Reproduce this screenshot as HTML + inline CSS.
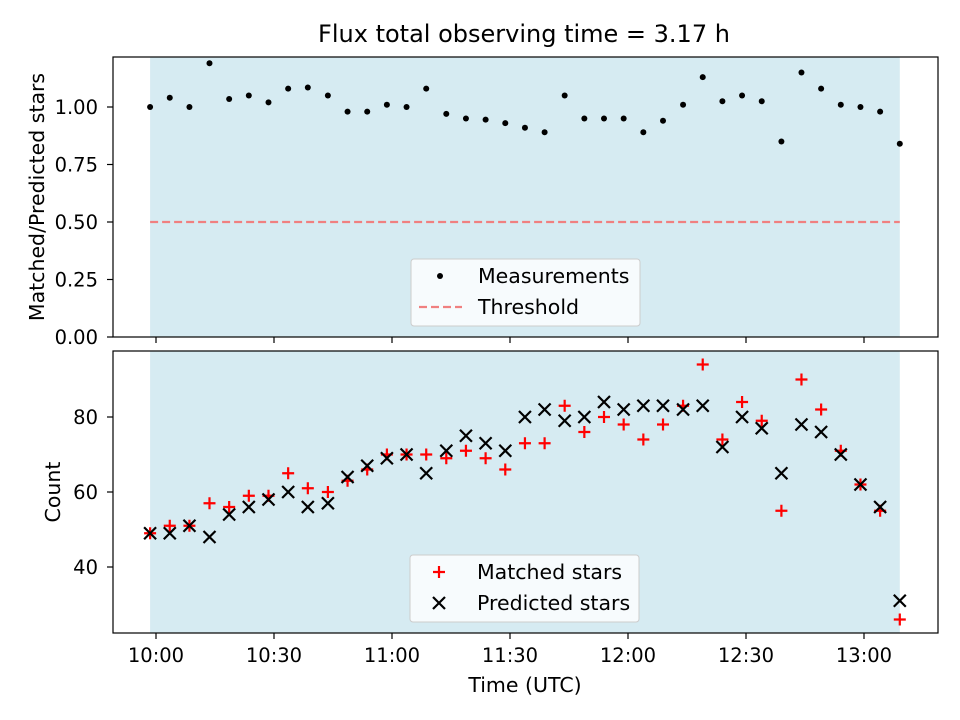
<!DOCTYPE html>
<html><head><meta charset="utf-8"><style>
body{margin:0;background:#fff;}
svg{display:block;font-family:"DejaVu Sans","Liberation Sans",sans-serif;}
</style></head><body>
<svg id="chart" width="960" height="720" xmlns="http://www.w3.org/2000/svg"></svg>
<script>
// Data
const timesMin = [-1.5,3.5,8.5,13.6,18.6,23.6,28.6,33.6,38.6,43.7,48.7,53.7,58.7,63.7,68.7,73.8,78.8,83.8,88.8,93.8,98.8,103.9,108.9,113.9,118.9,123.9,128.9,134,139,144,149,154,159,164.1,169.1,174.1,179.1,184.1,189.1];
const ratioValues = [1.00,1.04,1.00,1.19,1.035,1.05,1.02,1.08,1.085,1.05,0.98,0.98,1.01,1.00,1.08,0.97,0.95,0.945,0.93,0.91,0.89,1.05,0.95,0.95,0.95,0.89,0.94,1.01,1.13,1.025,1.05,1.025,0.85,1.15,1.08,1.01,1.00,0.98,0.84];
const matchedValues = [49,51,51,57,56,59,59,65,61,60,63,66,70,70,70,69,71,69,66,73,73,83,76,80,78,74,78,83,94,74,84,79,55,90,82,71,62,55,26];
const predictedValues = [49,49,51,48,54,56,58,60,56,57,64,67,69,70,65,71,75,73,71,80,82,79,80,84,82,83,83,82,83,72,80,77,65,78,76,70,62,56,31];
const xTickMin = [0,30,60,90,120,150,180];
const xTickLabels = ["10:00","10:30","11:00","11:30","12:00","12:30","13:00"];
const topTicks = [0,0.25,0.5,0.75,1.0];
const topTickLabels = ["0.00","0.25","0.50","0.75","1.00"];
const botTicks = [40,60,80];
const threshold = 0.5;

const NS="http://www.w3.org/2000/svg";
const svg=document.getElementById('chart');
function mk(tag,attrs,parent){const e=document.createElementNS(NS,tag);for(const k in attrs)e.setAttribute(k,attrs[k]);(parent||svg).appendChild(e);return e;}
const X0=113,X1=938;
const TICK_FS=19.5, LABEL_FS=20.5;
const x=m=>156+m*(118/30);
const yTop=v=>337-v*230;
const yBot=v=>417-(v-80)*3.75;
const shadeX0=x(timesMin[0]), shadeX1=x(timesMin[timesMin.length-1]);

function panel(name,top,bottom,ticks,labels,yf,ylabel,ylabelX,showX){
  const g=mk('g',{});
  
  
  const bg=mk('rect',{x:shadeX0,y:top,width:shadeX1-shadeX0,height:bottom-top,fill:'#add8e6','fill-opacity':0.5},g);
  
  
  ticks.forEach((t,i)=>{
    const yy=yf(t);
    mk('line',{x1:X0-6,x2:X0,y1:yy,y2:yy,stroke:'#000','stroke-width':1.2},g);
    const tx=mk('text',{x:X0-15,y:yy+7,'text-anchor':'end','font-size':TICK_FS},g);
    tx.textContent=labels?labels[i]:String(t);
    
    
  });
  xTickMin.forEach((m,i)=>{
    const xx=x(m);
    mk('line',{x1:xx,x2:xx,y1:bottom,y2:bottom+6,stroke:'#000','stroke-width':1.2},g);
    if(showX){const tx=mk('text',{x:xx,y:bottom+29,'text-anchor':'middle','font-size':TICK_FS},g);tx.textContent=xTickLabels[i];
      
      }
  });
  const yl=mk('text',{transform:`translate(${ylabelX},${(top+bottom)/2}) rotate(-90)`,'text-anchor':'middle','font-size':LABEL_FS},g);
  yl.textContent=ylabel;
  
  
  return g;
}
function frame(top,bottom){const r=mk('rect',{x:X0,y:top,width:X1-X0,height:bottom-top,fill:'none',stroke:'#000','stroke-width':1.2});}

const title=mk('text',{x:524,y:42,'text-anchor':'middle','font-size':24});
title.textContent='Flux total observing time = 3.17 h';



// Top panel
const gt=panel('ratio-panel',57,337,topTicks,topTickLabels,yTop,'Matched/Predicted stars',44,false);
const th=mk('line',{x1:shadeX0,x2:shadeX1,y1:yTop(threshold),y2:yTop(threshold),stroke:'#f08080','stroke-width':2.2,'stroke-dasharray':'8,4'},gt);


ratioValues.forEach((v,i)=>{
  const c=mk('circle',{cx:x(timesMin[i]),cy:yTop(v),r:3,fill:'#000'},gt);
  
  
});
frame(57,337);

// Bottom panel
const gb=panel('count-panel',351,633,botTicks,null,yBot,'Count',60,true);
matchedValues.forEach((v,i)=>{
  const cx=x(timesMin[i]),cy=yBot(v);
  const p=mk('path',{d:`M${cx-6},${cy}H${cx+6}M${cx},${cy-6}V${cy+6}`,stroke:'#f00','stroke-width':2.2},gb);
  
  
});
predictedValues.forEach((v,i)=>{
  const cx=x(timesMin[i]),cy=yBot(v);
  const p=mk('path',{d:`M${cx-6},${cy-6}L${cx+6},${cy+6}M${cx-6},${cy+6}L${cx+6},${cy-6}`,stroke:'#000','stroke-width':2.2},gb);
  
  
});
frame(351,633);
const xl=mk('text',{x:525,y:692,'text-anchor':'middle','font-size':LABEL_FS});
xl.textContent='Time (UTC)';



// Legends
function legend(name,bx,by,items){
  const g=mk('g',{});
  
  
  mk('rect',{x:bx,y:by,width:229,height:67,rx:3,fill:'#fff','fill-opacity':0.8,stroke:'#ccc'},g);
  items.forEach((it,i)=>{
    const cy=by+17+i*31, cx=bx+29;
    if(it.k==='dot')mk('circle',{cx,cy,r:3,fill:'#000'},g);
    if(it.k==='dash')mk('line',{x1:cx-21,x2:cx+22,y1:cy,y2:cy,stroke:'#f08080','stroke-width':2.2,'stroke-dasharray':'8,4'},g);
    if(it.k==='plus')mk('path',{d:`M${cx-6},${cy}H${cx+6}M${cx},${cy-6}V${cy+6}`,stroke:'#f00','stroke-width':2.2},g);
    if(it.k==='x')mk('path',{d:`M${cx-6},${cy-6}L${cx+6},${cy+6}M${cx-6},${cy+6}L${cx+6},${cy-6}`,stroke:'#000','stroke-width':2.2},g);
    const t=mk('text',{x:bx+67,y:cy+7,'font-size':LABEL_FS},g);
    t.textContent=it.t;
    
    
  });
}
legend('ratio-legend',411,259,[{k:'dot',t:'Measurements'},{k:'dash',t:'Threshold'}]);
legend('count-legend',410,555,[{k:'plus',t:'Matched stars'},{k:'x',t:'Predicted stars'}]);
</script>
</body></html>
